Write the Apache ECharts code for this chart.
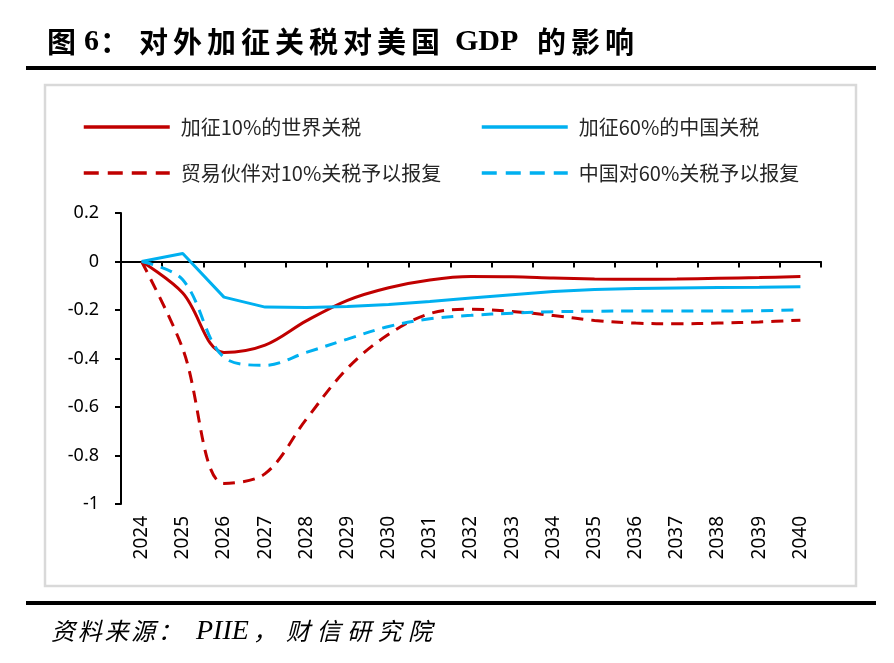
<!DOCTYPE html>
<html>
<head>
<meta charset="utf-8">
<script src="https://cdn.jsdelivr.net/npm/echarts@6/dist/echarts.min.js"></script>
<style>
html,body{margin:0;padding:0;background:#fff;}
#main{width:894px;height:663px;}
</style>
</head>
<body>
<div id="main"></div>
<script>
// ---- data ----
const years = ['2024','2025','2026','2027','2028','2029','2030','2031','2032','2033','2034','2035','2036','2037','2038','2039','2040'];
const seriesNames = ['加征10%的世界关税','加征60%的中国关税','贸易伙伴对10%关税予以报复','中国对60%关税予以报复'];
const world10      = [0, -0.13, -0.375, -0.345, -0.245, -0.16, -0.108, -0.076, -0.062, -0.063, -0.068, -0.072, -0.073, -0.072, -0.069, -0.066, -0.062];
const china60      = [0, 0.033, -0.147, -0.188, -0.19, -0.186, -0.177, -0.165, -0.151, -0.137, -0.124, -0.115, -0.111, -0.109, -0.107, -0.106, -0.104];
const world10Retal = [0, -0.36, -0.915, -0.875, -0.65, -0.44, -0.30, -0.215, -0.197, -0.206, -0.223, -0.243, -0.254, -0.257, -0.254, -0.249, -0.242];
const china60Retal = [0, -0.075, -0.395, -0.428, -0.375, -0.32, -0.268, -0.236, -0.222, -0.213, -0.207, -0.205, -0.204, -0.204, -0.204, -0.203, -0.199];

// ---- styling ----
const RED = '#C00000', BLUE = '#00B0F0';
const CJK = '"Noto Sans CJK SC"';
const chart = echarts.init(document.getElementById('main'), null, {renderer: 'canvas'});

function charsAt(str, x0, pitch, y, font) {
  return Array.from(str).map((ch, i) => ({
    type: 'text', x: x0 + i * pitch, y: y,
    style: {text: ch, font: font, fill: '#000', textVerticalAlign: 'middle', textAlign: 'left'}
  }));
}
function textAt(str, x, y, font) {
  return [{type: 'text', x: x, y: y, style: {text: str, font: font, fill: '#000', textVerticalAlign: 'middle', textAlign: 'left'}}];
}
const tFontC = 'bold 29px ' + CJK;
const tFontL = 'bold 30px "Liberation Serif"';
const sFontC = 'italic 24px ' + CJK;
const sFontL = 'italic 28px "Liberation Serif"';
const TY = 42, SY = 631;
const graphics = [].concat(
  textAt('图', 47, TY, tFontC),
  textAt('6', 84, TY, tFontL),
  textAt('：', 100, TY, tFontC),
  charsAt('对外加征关税对美国', 139, 34, TY, tFontC),
  textAt('GDP', 455, TY, tFontL),
  charsAt('的影响', 537, 34, TY, tFontC),
  [{type:'rect', shape:{x:26, y:66, width:850, height:4}, style:{fill:'#000'}}],
  [{type:'rect', shape:{x:45, y:85, width:811, height:501}, style:{fill:'none', stroke:'#d9d9d9', lineWidth:2.5}}],
  [{type:'rect', shape:{x:26, y:601, width:850, height:4}, style:{fill:'#000'}}],
  charsAt('资料来源：', 51, 26.7, SY, sFontC),
  textAt('PIIE', 196, SY + 1, sFontL),
  textAt('，', 253, SY, sFontC),
  charsAt('财信研究院', 286, 30.5, SY, sFontC)
);

function legendFor(i, left, top, dashed) {
  return {
    data: [seriesNames[i]], left: left, top: top, padding: 0,
    itemWidth: 86, itemHeight: 14,
    itemStyle: {opacity: 0},
    lineStyle: dashed ? {type: [15, 9], width: 3.5} : {width: 3.5},
    textStyle: {fontSize: 20, fontFamily: CJK, color: '#262626', padding: [0, 0, 0, 6]}
  };
}

const dashPattern = [12, 8];
function mkSeries(i, data, color, dashed, smooth) {
  return {
    name: seriesNames[i], type: 'line', data: data, xAxisIndex: 0, yAxisIndex: 0,
    symbol: 'none', smooth: smooth, animation: false,
    lineStyle: {color: color, width: 3, type: dashed ? dashPattern : 'solid'},
    itemStyle: {color: color}
  };
}

chart.setOption({
  animation: false,
  backgroundColor: '#fff',
  graphic: {elements: graphics},
  legend: [
    legendFor(0, 82, 117, false),
    legendFor(1, 480, 117, false),
    legendFor(2, 82, 163, true),
    legendFor(3, 480, 163, true)
  ],
  grid: {left: 121, right: 73, top: 213, bottom: 159, containLabel: false},
  xAxis: [
    {
      type: 'category', data: years, boundaryGap: true,
      axisLine: {onZero: true, lineStyle: {color: '#000', width: 2}},
      axisTick: {show: true, length: 6, lineStyle: {color: '#000', width: 2}},
      axisLabel: {show: false}
    },
    {
      type: 'category', data: years, boundaryGap: true, position: 'bottom',
      axisLine: {show: false, onZero: false}, axisTick: {show: false},
      axisLabel: {show: true, rotate: 90, margin: 12, fontSize: 19, fontFamily: 'Noto Sans', color: '#000', interval: 0}
    }
  ],
  yAxis: {
    type: 'value', min: -1, max: 0.2, interval: 0.2,
    axisLine: {show: true, lineStyle: {color: '#000', width: 2}},
    axisTick: {show: true, length: 6, lineStyle: {color: '#000', width: 2}},
    splitLine: {show: false},
    axisLabel: {fontSize: 18, fontFamily: 'Noto Sans', color: '#000', margin: 22,
      formatter: v => String(Math.round(v * 10) / 10)}
  },
  series: [
    mkSeries(0, world10, RED, false, 0.35),
    mkSeries(1, china60, BLUE, false, false),
    mkSeries(2, world10Retal, RED, true, 0.35),
    mkSeries(3, china60Retal, BLUE, true, 0.35)
  ]
});
</script>
</body>
</html>
